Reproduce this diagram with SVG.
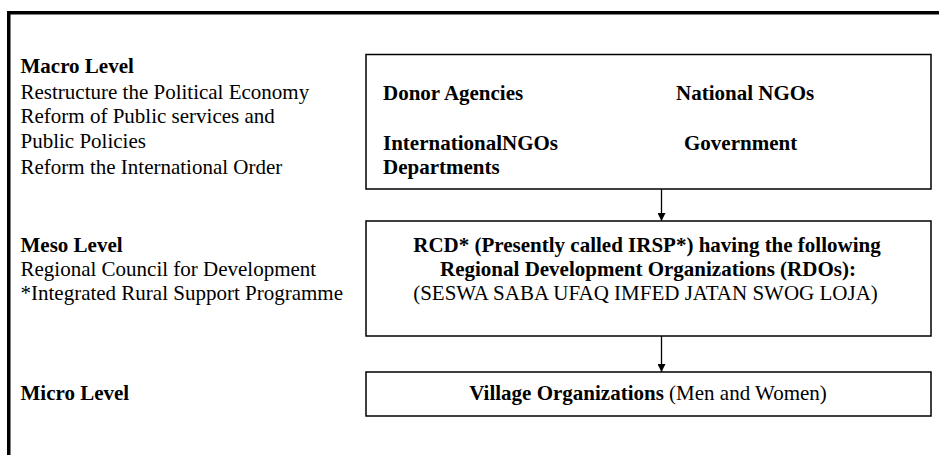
<svg xmlns="http://www.w3.org/2000/svg" width="939" height="455" viewBox="0 0 939 455">
<style>
text{font-family:"Liberation Serif","Times New Roman",serif;font-size:21px;fill:#000}
.b{font-weight:bold}
.box{fill:#fff;stroke:#000;stroke-width:1.5}
.edge{stroke:#000;stroke-width:1.3;fill:none}
</style>
<defs>
<marker id="ah" viewBox="0 0 10 10" refX="10" refY="5" markerWidth="8" markerHeight="8" markerUnits="userSpaceOnUse" orient="auto"><path d="M0,0L10,5L0,10z" fill="#000"/></marker>
</defs>
<rect width="939" height="455" fill="#fff"/>
<g id="frame">
<line x1="7" y1="12.75" x2="939" y2="12.75" stroke="#000" stroke-width="3.5"/>
<line x1="8.75" y1="11" x2="8.75" y2="455" stroke="#000" stroke-width="3.5"/>
</g>
<g id="macro-label">
<text x="20.5" y="73" class="b">Macro Level</text>
<text x="20.5" y="99">Restructure the Political Economy</text>
<text x="20.5" y="123">Reform of Public services and</text>
<text x="20.5" y="148">Public Policies</text>
<text x="20.5" y="174">Reform the International Order</text>
</g>
<g id="meso-label">
<text x="20.5" y="252" class="b">Meso Level</text>
<text x="20.5" y="276">Regional Council for Development</text>
<text x="20.5" y="300">*Integrated Rural Support Programme</text>
</g>
<g id="micro-label">
<text x="20.5" y="400" class="b">Micro Level</text>
</g>
<g id="macro-box">
<rect class="box" x="366" y="54.5" width="565" height="134.5"/>
<text x="383" y="100" class="b">Donor Agencies</text>
<text x="676" y="100" class="b">National NGOs</text>
<text x="383" y="150" class="b">InternationalNGOs</text>
<text x="684" y="150" class="b">Government</text>
<text x="383" y="174" class="b">Departments</text>
</g>
<g id="meso-box">
<rect class="box" x="366" y="221" width="565" height="115"/>
<text x="647" y="252" class="b" text-anchor="middle">RCD* (Presently called IRSP*) having the following</text>
<text x="648" y="276" class="b" text-anchor="middle">Regional Development Organizations (RDOs):</text>
<text x="645.5" y="300" text-anchor="middle">(SESWA SABA UFAQ IMFED JATAN SWOG LOJA)</text>
</g>
<g id="micro-box">
<rect class="box" x="366" y="372" width="565" height="44"/>
<text x="648" y="400" text-anchor="middle"><tspan class="b">Village Organizations</tspan> (Men and Women)</text>
</g>
<g id="connectors">
<line class="edge" x1="661.5" y1="189" x2="661.5" y2="221" marker-end="url(#ah)"/>
<line class="edge" x1="661.5" y1="336" x2="661.5" y2="372" marker-end="url(#ah)"/>
</g>
</svg>
